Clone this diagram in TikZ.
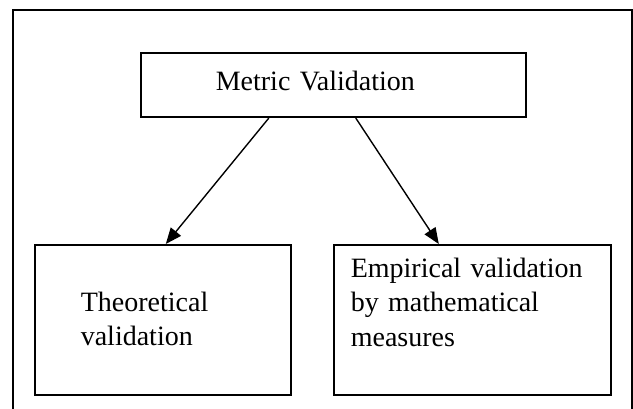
\documentclass[tikz,border=0pt]{standalone}
\usepackage{fontspec}
\setmainfont{Liberation Serif}
\usetikzlibrary{arrows.meta}

\begin{document}
\begin{tikzpicture}[
  x=1pt, y=-1pt,
  box/.style={draw, line width=1.6pt, inner ysep=0pt, align=left, anchor=north west,
    font=\fontsize{28}{34.5}\selectfont},
  edge/.style={-{Triangle[length=16pt, width=13pt]}, line width=1.4pt}
]
\useasboundingbox (0,0) rectangle (633,409);
% outer frame, open at the bottom
\draw[line width=1.4pt] (13,409) -- (13,10) -- (632,10) -- (632,409);

\node[box, inner xsep=75pt, text width=235pt, text height=37.3pt, text depth=27.2pt] (metric) at (140,52) {Metric Validation};
\node[box, inner xsep=46pt, text width=164pt, text height=66.7pt, text depth=83.3pt] (theo) at (34,244) {Theoretical\\validation};
\node[box, inner xsep=17pt, text width=243pt, text height=32.7pt, text depth=117.3pt] (emp) at (333,244) {Empirical validation\\by mathematical\\measures};

\draw[edge] ([xshift=-64.5pt]metric.south) -- ([xshift=3pt]theo.north);
\draw[edge] ([xshift=22.5pt]metric.south) -- ([xshift=-33.5pt]emp.north);
\end{tikzpicture}
\end{document}
